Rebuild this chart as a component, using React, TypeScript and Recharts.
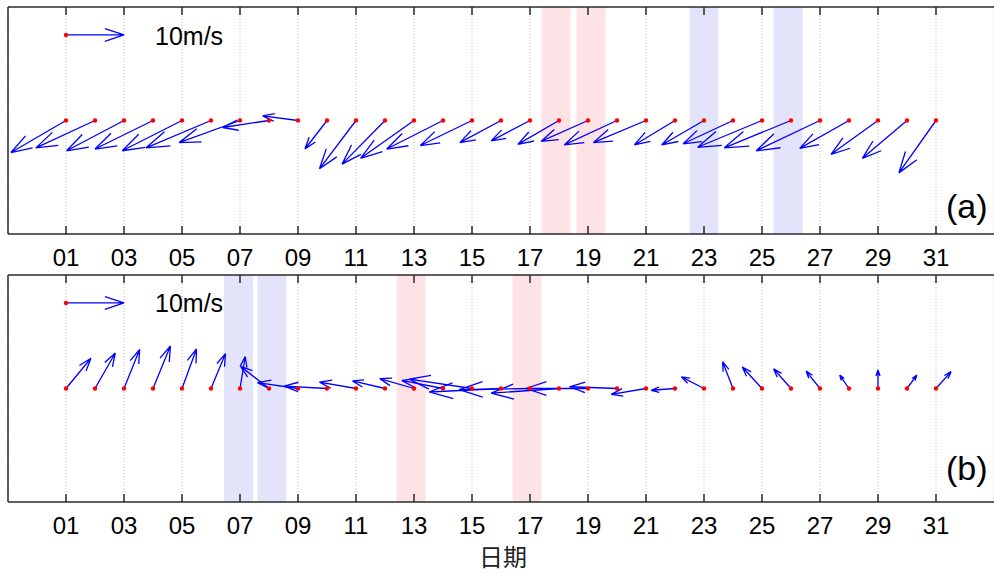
import {
  CartesianGrid,
  ComposedChart,
  Line,
  ReferenceArea,
  Scatter,
  XAxis,
  YAxis,
} from "recharts";

// days of the month
const days = [
  1, 2, 3, 4, 5, 6, 7, 8, 9, 10, 11, 12, 13, 14, 15, 16, 17, 18, 19, 20, 21,
  22, 23, 24, 25, 26, 27, 28, 29, 30, 31,
];
const tickDays = [1, 3, 5, 7, 9, 11, 13, 15, 17, 19, 21, 23, 25, 27, 29, 31];
const tickLabels = [
  "01", "03", "05", "07", "09", "11", "13", "15", "17", "19", "21", "23",
  "25", "27", "29", "31",
];

// panel (a) wind components, m/s
const uA = [
  -9.5, -10.2, -9.9, -10.0, -10.3, -11.2, -10.5, -8.0, -6.1, -3.8, -6.3, -7.4,
  -9.2, -9.7, -8.9, -7.1, -6.7, -7.1, -8.1, -9.1, -9.1, -7.0, -7.3, -8.6,
  -11.1, -11.5, -11.0, -8.5, -8.1, -7.7, -6.4,
];
const vA = [
  -5.5, -4.7, -5.2, -4.9, -5.2, -4.7, -3.8, -1.2, 0.8, -4.9, -8.3, -7.5, -6.5,
  -4.9, -4.3, -3.8, -3.5, -4.1, -3.6, -4.2, -3.8, -4.2, -4.2, -4.0, -4.6,
  -4.7, -5.2, -4.8, -5.8, -6.5, -9.0,
];

// panel (b) wind components, m/s
const uB = [
  4.3, 3.5, 2.7, 3.0, 2.5, 2.5, 0.9, -4.9, -7.0, -7.4, -6.3, -5.6, -5.9, -7.1,
  -10.8, -12.4, -12.2, -11.7, -10.7, -8.2, -6.0, -4.1, -3.9, -1.8, -3.4, -3.0,
  -2.4, -1.6, 0.0, 1.7, 2.6,
];
const vB = [
  5.2, 6.1, 6.7, 7.3, 6.8, 6.0, 5.5, 3.8, 1.0, 0.4, 1.1, 1.3, 1.7, 1.4, 1.6,
  -0.6, -0.2, -0.8, 0.0, 0.3, -1.0, -0.3, 2.0, 4.6, 3.7, 3.4, 3.0, 2.3, 3.2,
  2.3, 2.9,
];

// shaded periods (day ranges)
const pinkA = [
  [17.4, 18.4],
  [18.6, 19.6],
];
const blueA = [
  [22.5, 23.5],
  [25.4, 26.4],
];
const pinkB = [
  [12.4, 13.4],
  [16.4, 17.4],
];
const blueB = [
  [6.45, 7.45],
  [7.6, 8.6],
];

// reference vector
const refSpeed = 10;
const refDay = 1;
const refLevel = 2.94;

const S = 0.2; // days per m/s, same on both axes
const ALPHA = 0.33;
const BETA = 0.33;
const X_DOMAIN: [number, number] = [-1, 33];
const Y_DOMAIN: [number, number] = [-3.9, 3.9];

const AXIS = "#2a2a2a";
const BLUE = "#0000ff";
const PINK = "#fde3e5";
const LAV = "#e3e3fa";
const FONT = "'Liberation Sans', Arial, sans-serif";

// quiver-style arrow: shaft + open head, in data units
function arrow(x0: number, y0: number, u: number, v: number) {
  const du = u * S;
  const dv = v * S;
  const tx = x0 + du;
  const ty = y0 + dv;
  return [
    { x: x0, y: y0 },
    { x: tx, y: ty },
    { x: tx - ALPHA * (du + BETA * dv), y: ty - ALPHA * (dv - BETA * du) },
    { x: tx, y: null },
    { x: tx - ALPHA * (du - BETA * dv), y: ty - ALPHA * (dv + BETA * du) },
    { x: tx, y: ty },
  ];
}

const BottomTick = (props: any) => {
  const { x, y, index } = props;
  return (
    <g>
      <line x1={x} x2={x} y1={y} y2={y - 8} stroke={AXIS} strokeWidth={1.5} />
      <text
        x={x}
        y={y + 31.5}
        textAnchor="middle"
        fontSize={24}
        fontFamily={FONT}
        fill="#000"
      >
        {tickLabels[index]}
      </text>
    </g>
  );
};

const TopTick = (props: any) => {
  const { x, y } = props;
  return <line x1={x} x2={x} y1={y} y2={y + 8} stroke={AXIS} strokeWidth={1.5} />;
};

const RedDot = (props: any) => (
  <circle cx={props.cx} cy={props.cy} r={2.2} fill="#ff0000" />
);

interface PanelProps {
  u: number[];
  v: number[];
  pink: number[][];
  blue: number[][];
  height: number;
  top: number;
  bottom: number;
}

const Panel: React.FC<PanelProps> = ({ u, v, pink, blue, height, top, bottom }) => {
  const bases = days.map((d) => ({ x: d, y: 0 }));
  bases.push({ x: refDay, y: refLevel });
  return (
    <ComposedChart
      width={994}
      height={height}
      margin={{ top: 0, right: 0, bottom: 0, left: 0 }}
    >
      {pink.map((r, i) => (
        <ReferenceArea key={`p${i}`} x1={r[0]} x2={r[1]} fill={PINK} fillOpacity={1} stroke="none" />
      ))}
      {blue.map((r, i) => (
        <ReferenceArea key={`b${i}`} x1={r[0]} x2={r[1]} fill={LAV} fillOpacity={1} stroke="none" />
      ))}
      <CartesianGrid
        horizontal={false}
        stroke="#bdbdbd"
        strokeDasharray="1 2"
      />
      <XAxis
        dataKey="x"
        type="number"
        domain={X_DOMAIN}
        allowDataOverflow
        ticks={tickDays}
        interval={0}
        height={bottom}
        tickSize={0}
        tickMargin={0}
        tickLine={false}
        tick={BottomTick}
        axisLine={{ stroke: AXIS, strokeWidth: 1.5 }}
      />
      <XAxis
        xAxisId="top"
        orientation="top"
        dataKey="x"
        type="number"
        domain={X_DOMAIN}
        allowDataOverflow
        ticks={tickDays}
        interval={0}
        height={top}
        tickSize={0}
        tickMargin={0}
        tickLine={false}
        tick={TopTick}
        axisLine={{ stroke: AXIS, strokeWidth: 1.5 }}
      />
      <YAxis
        type="number"
        domain={Y_DOMAIN}
        allowDataOverflow
        width={8}
        tick={false}
        tickLine={false}
        axisLine={{ stroke: AXIS, strokeWidth: 1.5 }}
      />
      {days.map((d, i) => (
        <Line
          key={`a${d}`}
          data={arrow(d, 0, u[i], v[i])}
          dataKey="y"
          type="linear"
          stroke={BLUE}
          strokeWidth={1.3}
          dot={false}
          activeDot={false}
          connectNulls={false}
          isAnimationActive={false}
        />
      ))}
      <Line
        key="ref"
        data={arrow(refDay, refLevel, refSpeed, 0)}
        dataKey="y"
        type="linear"
        stroke={BLUE}
        strokeWidth={1.3}
        dot={false}
        activeDot={false}
        connectNulls={false}
        isAnimationActive={false}
      />
      <Scatter data={bases} dataKey="y" shape={RedDot} isAnimationActive={false} />
    </ComposedChart>
  );
};

export default function App() {
  return (
    <div
      style={{
        position: "absolute",
        left: 0,
        top: 0,
        width: 994,
        height: 572,
        background: "#fff",
      }}
    >
      <Panel u={uA} v={vA} pink={pinkA} blue={blueA} height={270} top={7} bottom={36} />
      <Panel u={uB} v={vB} pink={pinkB} blue={blueB} height={302} top={5} bottom={70} />
      <svg
        width={994}
        height={572}
        style={{ position: "absolute", left: 0, top: 0, pointerEvents: "none" }}
      >
        <text x={155} y={44.5} fontSize={25} fontFamily={FONT} fill="#000">
          10m/s
        </text>
        <text x={155} y={312.3} fontSize={25} fontFamily={FONT} fill="#000">
          10m/s
        </text>
        <text x={946} y={218} fontSize={34} fontFamily={FONT} fill="#000">
          (a)
        </text>
        <text x={946} y={480} fontSize={34} fontFamily={FONT} fill="#000">
          (b)
        </text>
        <text
          x={503}
          y={566}
          textAnchor="middle"
          fontSize={24}
          fontFamily="'Noto Sans CJK SC', sans-serif"
          fill="#222"
        >
          日期
        </text>
      </svg>
    </div>
  );
}
